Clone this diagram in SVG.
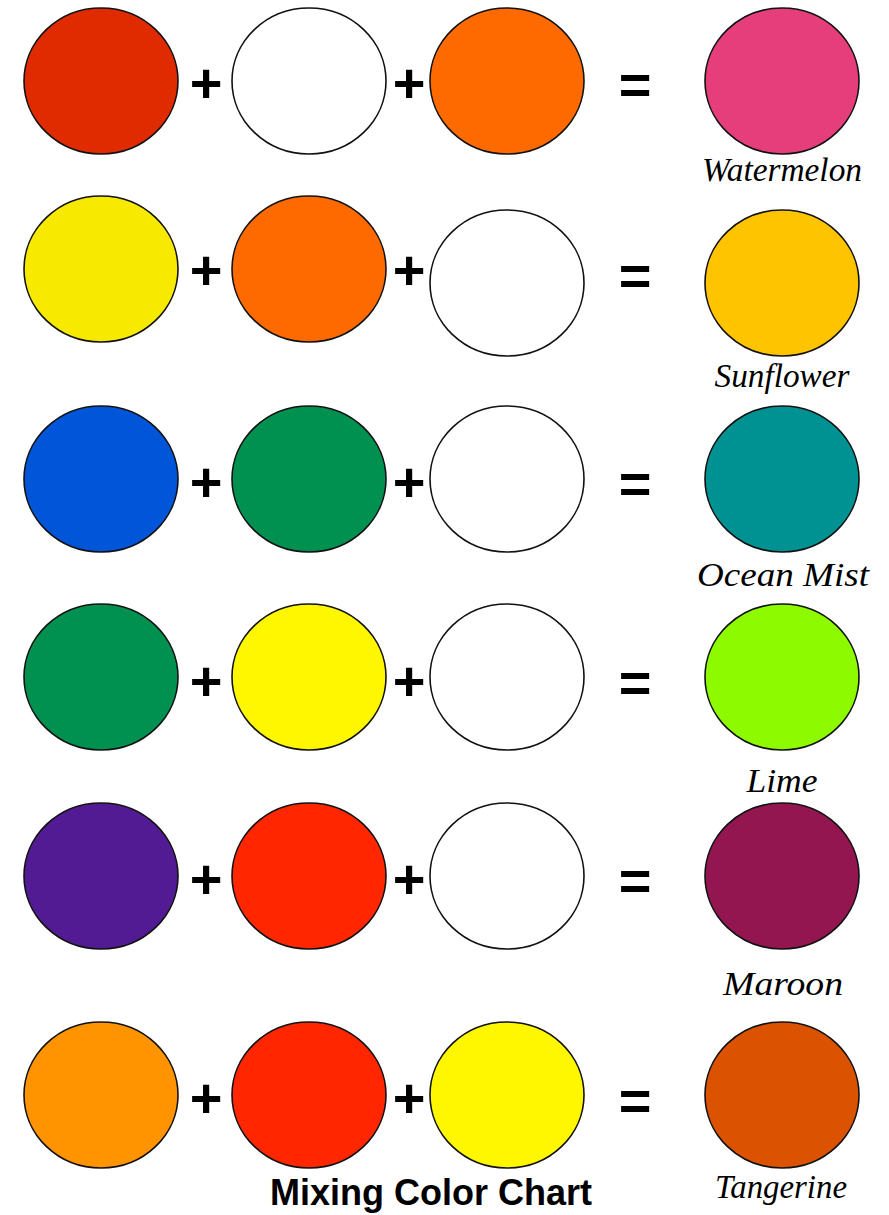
<svg xmlns="http://www.w3.org/2000/svg" width="889" height="1215" viewBox="0 0 889 1215">
<style>
.c{stroke:#111;stroke-width:1.6}
.op{font-family:"Liberation Sans",Arial,sans-serif;font-weight:bold;font-size:56px;fill:#000;text-anchor:middle}
.lbl{font-family:"Liberation Serif","Times New Roman",serif;font-style:italic;font-size:34px;fill:#000;text-anchor:middle}
.title{font-family:"Liberation Sans",Arial,sans-serif;font-weight:bold;font-size:36px;fill:#000}
</style>
<rect width="889" height="1215" fill="#fff"/>
<g id="row1">
<ellipse class="c" cx="101" cy="81" rx="77" ry="73" fill="#E02A00"/>
<text class="op" x="206" y="102">+</text>
<ellipse class="c" cx="309" cy="81" rx="77" ry="73" fill="#FFFFFF"/>
<text class="op" x="409" y="102">+</text>
<ellipse class="c" cx="507" cy="81" rx="77" ry="73" fill="#FF6A00"/>
<text class="op" x="635" y="104">=</text>
<ellipse class="c" cx="782" cy="81" rx="77" ry="73" fill="#E63E7A"/>
<text class="lbl" x="782" y="181" textLength="160" lengthAdjust="spacingAndGlyphs">Watermelon</text>
</g>
<g id="row2">
<ellipse class="c" cx="101" cy="269" rx="77" ry="73" fill="#F7EA00"/>
<text class="op" x="206" y="289">+</text>
<ellipse class="c" cx="309" cy="269" rx="77" ry="73" fill="#FF6A00"/>
<text class="op" x="409" y="289">+</text>
<ellipse class="c" cx="507" cy="283" rx="77" ry="73" fill="#FFFFFF"/>
<text class="op" x="635" y="295">=</text>
<ellipse class="c" cx="782" cy="283" rx="77" ry="73" fill="#FFC400"/>
<text class="lbl" x="782" y="387" textLength="135" lengthAdjust="spacingAndGlyphs">Sunflower</text>
</g>
<g id="row3">
<ellipse class="c" cx="101" cy="479" rx="77" ry="73" fill="#0055D9"/>
<text class="op" x="206" y="501">+</text>
<ellipse class="c" cx="309" cy="479" rx="77" ry="73" fill="#00904F"/>
<text class="op" x="409" y="501">+</text>
<ellipse class="c" cx="507" cy="479" rx="77" ry="73" fill="#FFFFFF"/>
<text class="op" x="635" y="503">=</text>
<ellipse class="c" cx="782" cy="479" rx="77" ry="73" fill="#009292"/>
<text class="lbl" x="783" y="586" textLength="172" lengthAdjust="spacingAndGlyphs">Ocean Mist</text>
</g>
<g id="row4">
<ellipse class="c" cx="101" cy="677" rx="77" ry="73" fill="#00904F"/>
<text class="op" x="206" y="700">+</text>
<ellipse class="c" cx="309" cy="677" rx="77" ry="73" fill="#FFF700"/>
<text class="op" x="409" y="700">+</text>
<ellipse class="c" cx="507" cy="677" rx="77" ry="73" fill="#FFFFFF"/>
<text class="op" x="635" y="702">=</text>
<ellipse class="c" cx="782" cy="677" rx="77" ry="73" fill="#8EFA00"/>
<text class="lbl" x="782" y="792" textLength="71" lengthAdjust="spacingAndGlyphs">Lime</text>
</g>
<g id="row5">
<ellipse class="c" cx="101" cy="876" rx="77" ry="73" fill="#531B93"/>
<text class="op" x="206" y="898">+</text>
<ellipse class="c" cx="309" cy="876" rx="77" ry="73" fill="#FF2600"/>
<text class="op" x="409" y="898">+</text>
<ellipse class="c" cx="507" cy="876" rx="77" ry="73" fill="#FFFFFF"/>
<text class="op" x="635" y="900">=</text>
<ellipse class="c" cx="782" cy="876" rx="77" ry="73" fill="#941651"/>
<text class="lbl" x="783" y="995" textLength="120" lengthAdjust="spacingAndGlyphs">Maroon</text>
</g>
<g id="row6">
<ellipse class="c" cx="101" cy="1095" rx="77" ry="73" fill="#FF9300"/>
<text class="op" x="206" y="1117">+</text>
<ellipse class="c" cx="309" cy="1095" rx="77" ry="73" fill="#FF2600"/>
<text class="op" x="409" y="1117">+</text>
<ellipse class="c" cx="507" cy="1095" rx="77" ry="73" fill="#FFF700"/>
<text class="op" x="635" y="1120">=</text>
<ellipse class="c" cx="782" cy="1095" rx="77" ry="73" fill="#DB5200"/>
<text class="lbl" x="781" y="1198" textLength="132" lengthAdjust="spacingAndGlyphs">Tangerine</text>
</g>
<g id="title">
<text class="title" x="270" y="1205">Mixing Color Chart</text>
</g>
<g id="connectors"></g>
</svg>
